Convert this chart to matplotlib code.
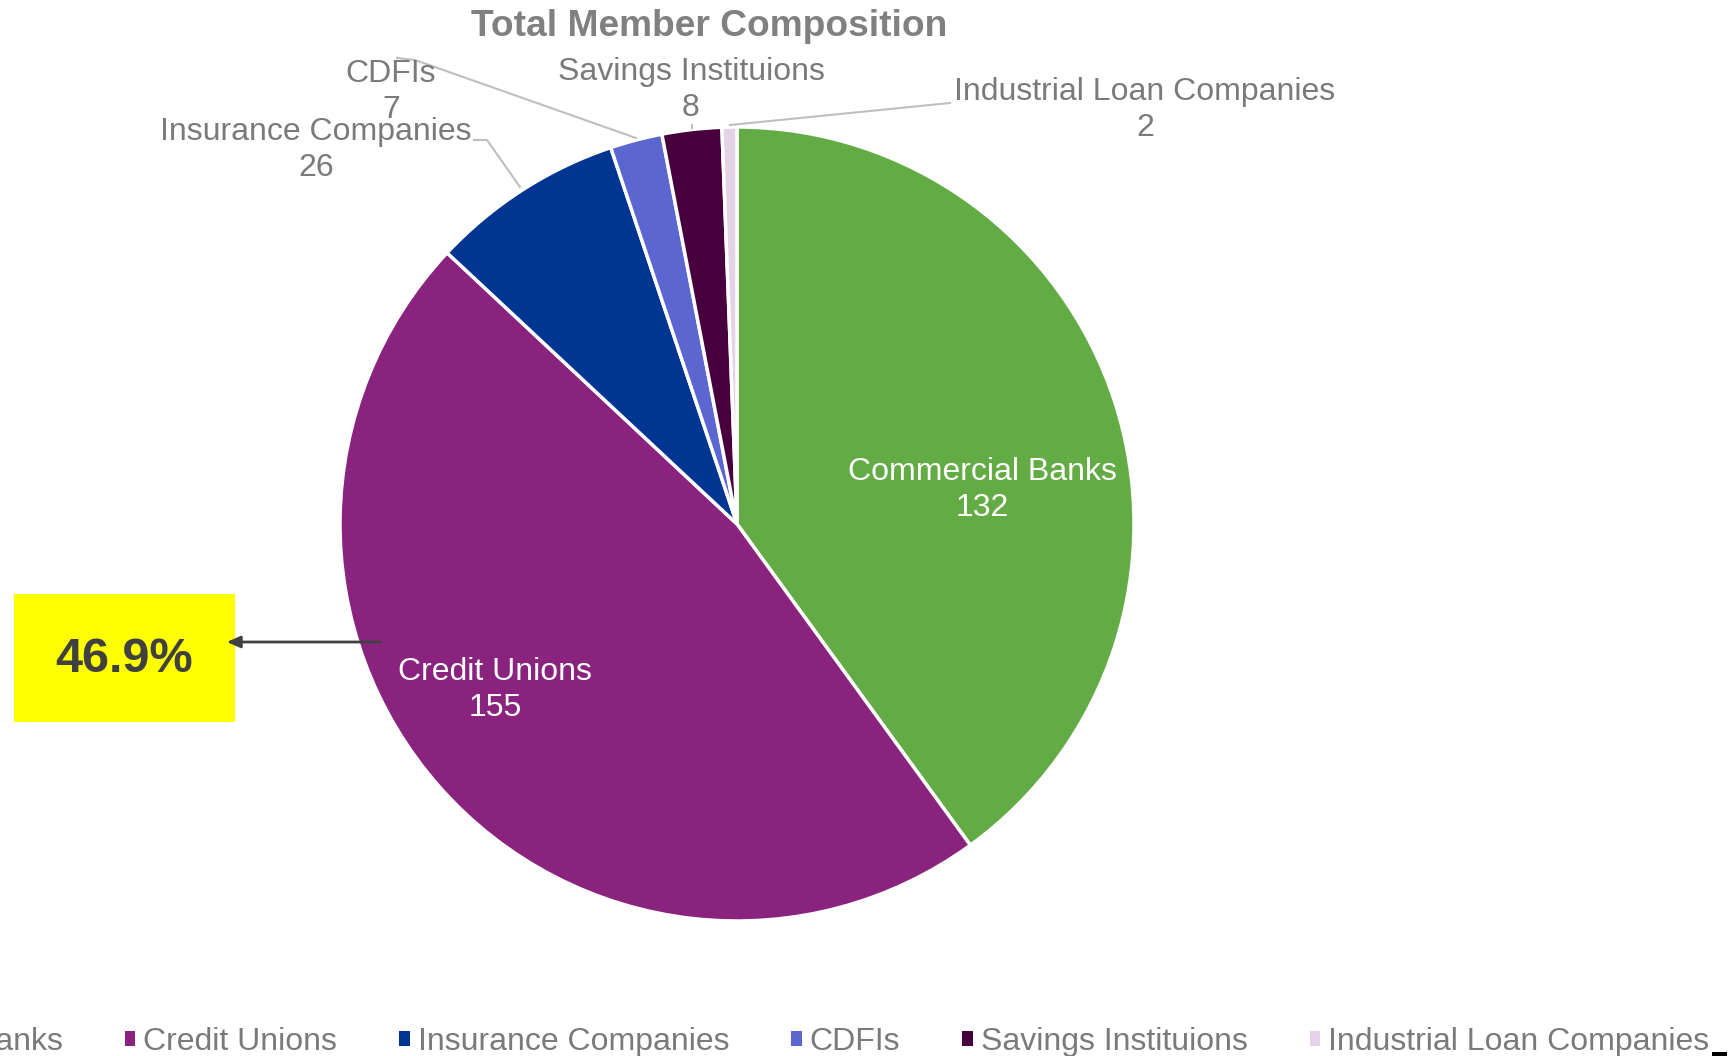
import matplotlib.pyplot as plt
from matplotlib.patches import Rectangle

plt.rcParams['font.family'] = ['Liberation Sans', 'DejaVu Sans']

categories = ["Commercial Banks", "Credit Unions", "Insurance Companies",
              "CDFIs", "Savings Instituions", "Industrial Loan Companies"]
members = [132, 155, 26, 7, 8, 2]
colors = ["#63AC45", "#8A237D", "#003591", "#5C66D0", "#47003D", "#E4D2E6"]
highlight = "46.9%"

W, H = 1729, 1056
GREY = "#7a7a7a"

fig = plt.figure(figsize=(W / 100, H / 100), dpi=100)
ax = fig.add_axes([0, 0, 1, 1])

# work in pixel coords, y measured from the top
def py(y):
    return H - y

wedges, _ = ax.pie(members, colors=colors, startangle=90, counterclock=False,
                   center=(737, py(524)), radius=397,
                   wedgeprops=dict(edgecolor="white", linewidth=2.5))
ax.set_xlim(0, W)
ax.set_ylim(0, H)
ax.set_aspect("equal")
ax.axis("off")

# data labels
label_pos = [(982, 490, "white"), (495, 690, "white"), (316, 150, GREY),
             (391, 92, GREY), (691, 90, GREY), (1145, 110, GREY)]
for name, val, (x, y, c) in zip(categories, members, label_pos):
    ax.text(x, py(y), f"{name}\n{val}", ha="center", va="center",
            fontsize=23, color=c, linespacing=1.27)

# leader lines
lc = "#bfbfbf"
ax.plot([474, 487, 520], [py(140), py(140), py(187)], color=lc, lw=1.5)
ax.plot([397, 415, 636], [py(58), py(60), py(138)], color=lc, lw=1.5)
ax.plot([692, 692], [py(125), py(128)], color=lc, lw=1.5)
ax.plot([950, 730], [py(103), py(125)], color=lc, lw=1.5)

ax.text(709, py(27), "Total Member Composition", ha="center", va="center",
        fontsize=26.7, fontweight="bold", color="#808080")

# highlight box and arrow
ax.add_patch(Rectangle((14, py(722)), 221, 128, facecolor="#FFFF00",
                       edgecolor="none"))
ax.text(124, py(660), highlight, ha="center", va="center", fontsize=35,
        fontweight="bold", color="#404040")
ax.annotate("", xy=(224, py(642)), xytext=(383, py(642)),
            arrowprops=dict(arrowstyle="-|>,head_length=0.8,head_width=0.35",
                            color="#404040", lw=2))

leg = ax.legend(wedges, categories, loc="center right",
                bbox_to_anchor=(1709 / W, 1 - 1042 / H),
                bbox_transform=fig.transFigure, ncol=6, frameon=False,
                fontsize=23, labelcolor=GREY, handlelength=0.32,
                handleheight=0.32, handletextpad=0.25, columnspacing=1.95,
                borderpad=0, borderaxespad=0)
for h in leg.legend_handles:
    h.set_edgecolor("none")

ax.add_patch(Rectangle((1712, 0), 15, 4, facecolor="black", edgecolor="none",
                       clip_on=False))

fig.savefig("out.png", dpi=100)
